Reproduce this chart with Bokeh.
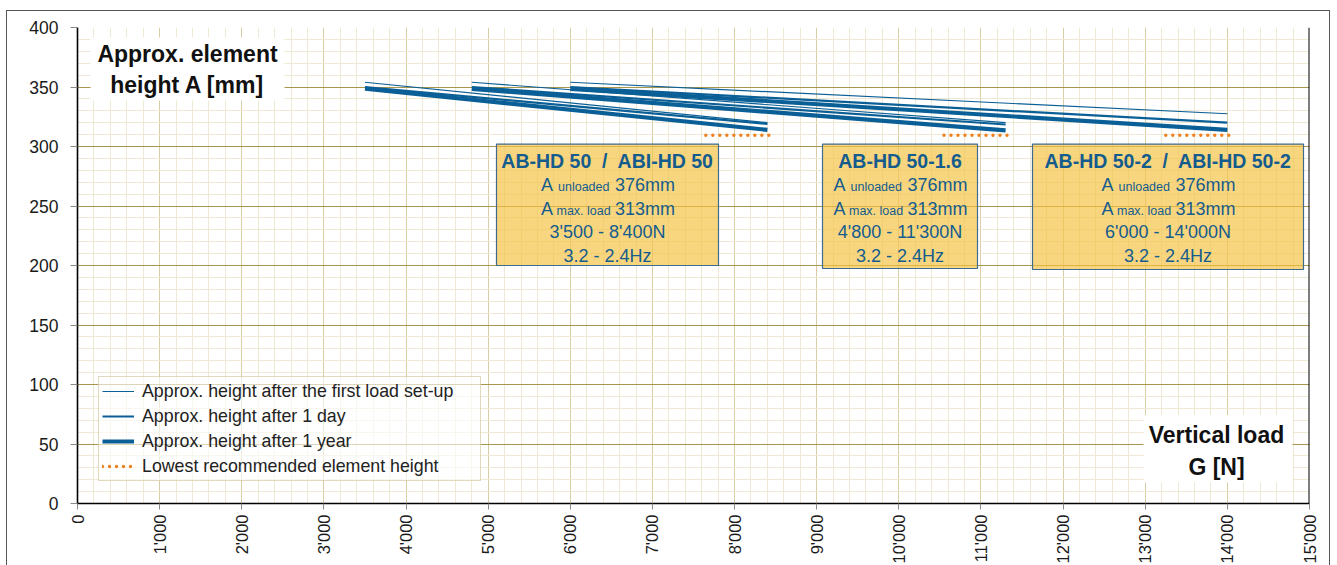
import math
from bokeh.plotting import figure
from bokeh.models import Range1d, FixedTicker, ColumnDataSource, Span
from bokeh.core.properties import value
from bokeh.embed import file_html
from bokeh.resources import INLINE

# ---------------- data ----------------
models = ["AB-HD 50\u00a0 /\u00a0 ABI-HD 50", "AB-HD 50-1.6", "AB-HD 50-2\u00a0 /\u00a0 ABI-HD 50-2"]
load_min = [3500, 4800, 6000]
load_max = [8400, 11300, 14000]
h_first_start = [354, 354, 354]
h_first_end = [320, 320, 327.5]
h_day_start = [350, 350, 350]
h_day_end = [319, 318.5, 320]
h_year_start = [348.5, 348.5, 348.5]
h_year_end = [314, 313.5, 314]
lowest_height = [309.5, 309.5, 309.5]
lowest_from = [7650, 10550, 13250]
lowest_to = [8450, 11350, 14050]
a_unloaded = ["376mm", "376mm", "376mm"]
a_maxload = ["313mm", "313mm", "313mm"]
load_ranges = ["3'500 - 8'400N", "4'800 - 11'300N", "6'000 - 14'000N"]
freq_ranges = ["3.2 - 2.4Hz", "3.2 - 2.4Hz", "3.2 - 2.4Hz"]
x_ticks = [0, 1000, 2000, 3000, 4000, 5000, 6000, 7000, 8000, 9000, 10000,
           11000, 12000, 13000, 14000, 15000]
x_tick_labels = ["0", "1'000", "2'000", "3'000", "4'000", "5'000", "6'000", "7'000",
                 "8'000", "9'000", "10'000", "11'000", "12'000", "13'000", "14'000", "15'000"]
y_ticks = [0, 50, 100, 150, 200, 250, 300, 350, 400]
legend_labels = ["Approx. height after the first load set-up",
                 "Approx. height after 1 day",
                 "Approx. height after 1 year",
                 "Lowest recommended element height"]

# ---------------- layout helpers ----------------
X0, X1, Y0, Y1 = 0, 15000, 0, 400
FRAME_W, FRAME_H = 1232, 476
FL, FT = 77, 27  # frame left / top in page pixels


def px_x(px):
    return X0 + (px - FL) * (X1 - X0) / FRAME_W


def px_y(py):
    return Y1 - (py - FT) * (Y1 - Y0) / FRAME_H


BLUE = "#0b5f97"
ORANGE = "#f07f1e"
TXT_BLUE = "#145c8e"
FONT_NAME = "Liberation Sans"
FONT = value(FONT_NAME)

p = figure(frame_width=FRAME_W, frame_height=FRAME_H,
           x_range=Range1d(X0, X1), y_range=Range1d(Y0, Y1),
           output_backend="svg", toolbar_location=None,
           min_border_left=70, min_border_top=16, min_border_right=20, min_border_bottom=55,
           background_fill_color="white", border_fill_color="white")
p.styles = {"border": "1px solid #555555", "margin-left": "6px", "margin-top": "10px"}
p.outline_line_color = None

# ---------------- axes & grid ----------------
xt = FixedTicker(ticks=x_ticks, minor_ticks=list(range(0, 15001, 200)))
yt = FixedTicker(ticks=y_ticks, minor_ticks=list(range(0, 401, 10)))
p.xaxis.ticker = xt
p.yaxis.ticker = yt
p.xgrid.ticker = xt
p.ygrid.ticker = yt
p.xaxis.major_label_overrides = {t: l for t, l in zip(x_ticks, x_tick_labels)}
p.xaxis.major_label_orientation = math.pi / 2
for ax in (p.xaxis, p.yaxis):
    ax.axis_line_color = "black"
    ax.axis_line_width = 1.6
    ax.major_tick_line_color = "#8a8a8a"
    ax.major_tick_in = 0
    ax.minor_tick_line_color = None
    ax.major_label_text_font = FONT_NAME
    ax.major_label_text_color = "#1a1a1a"
p.xaxis.major_label_text_font_size = "16.5px"
p.yaxis.major_label_text_font_size = "17.5px"
p.xaxis.major_tick_out = 6
p.xaxis.major_label_standoff = 5
p.yaxis.major_tick_out = 7
p.yaxis.major_label_standoff = 12

p.xgrid.grid_line_color = "#d8cea5"
p.xgrid.grid_line_width = 1
p.xgrid.minor_grid_line_color = "#eee8d4"
p.ygrid.grid_line_color = "#a8964f"
p.ygrid.grid_line_width = 1.2
p.ygrid.minor_grid_line_color = "#eee8d4"

p.add_layout(Span(location=X1, dimension="height", line_color="black", line_width=2))

# ---------------- series ----------------
src = ColumnDataSource(dict(lmin=load_min, lmax=load_max,
                            fs=h_first_start, fe=h_first_end,
                            ds=h_day_start, de=h_day_end,
                            ys=h_year_start, ye=h_year_end,
                            lo=lowest_height, lf=lowest_from, lt=lowest_to))
p.segment(x0="lmin", y0="fs", x1="lmax", y1="fe", source=src, line_color=BLUE,
          line_width=1.2, legend_label=legend_labels[0])
p.segment(x0="lmin", y0="ds", x1="lmax", y1="de", source=src, line_color=BLUE,
          line_width=2.2, legend_label=legend_labels[1])
p.segment(x0="lmin", y0="ys", x1="lmax", y1="ye", source=src, line_color=BLUE,
          line_width=4.2, legend_label=legend_labels[2])
p.segment(x0="lf", y0="lo", x1="lt", y1="lo", source=src, line_color=ORANGE,
          line_width=3.4, line_dash="0 7", line_cap="round", legend_label=legend_labels[3])

# ---------------- info boxes ----------------
box_left = [px_x(496), px_x(822), px_x(1032)]
box_right = [px_x(718), px_x(977), px_x(1303)]
box_top = [px_y(143.6)] * 3
box_bottom = [px_y(265), px_y(268), px_y(269)]
p.quad(left=box_left, right=box_right, top=box_top, bottom=box_bottom,
       fill_color="#f5c242", fill_alpha=0.68, line_color="#3f6b90", line_width=1.2)

cx = [(a + b) / 2 for a, b in zip(box_left, box_right)]


def row_y(py):
    return [px_y(py)] * 3


common = dict(text_font=FONT, text_color=TXT_BLUE, text_baseline="middle")
p.text(x=cx, y=row_y(160), text=models, text_font_size="19.5px", text_font_style="bold",
       text_align="center", **common)
p.text(x=cx, y=row_y(184.3), text=["A"] * 3, text_font_size="18px", text_align="left",
       x_offset=-66.5, **common)
p.text(x=cx, y=row_y(186.3), text=["unloaded"] * 3, text_font_size="12.5px", text_align="left",
       x_offset=-49.5, **common)
p.text(x=cx, y=row_y(184.3), text=a_unloaded, text_font_size="18px", text_align="left",
       x_offset=7.5, **common)
p.text(x=cx, y=row_y(208), text=["A"] * 3, text_font_size="18px", text_align="left",
       x_offset=-66.5, **common)
p.text(x=cx, y=row_y(210), text=["max. load"] * 3, text_font_size="12.5px", text_align="left",
       x_offset=-51, **common)
p.text(x=cx, y=row_y(208), text=a_maxload, text_font_size="18px", text_align="left",
       x_offset=7.5, **common)
p.text(x=cx, y=row_y(231.7), text=load_ranges, text_font_size="18px", text_align="center", **common)
p.text(x=cx, y=row_y(255), text=freq_ranges, text_font_size="18px", text_align="center", **common)

# ---------------- axis titles (inside the plot) ----------------
p.quad(left=[px_x(90)], right=[px_x(284)], top=[px_y(37)], bottom=[px_y(100)],
       fill_color="white", line_color=None)
p.text(x=[px_x(187)] * 2, y=[px_y(53.5), px_y(84)], text=["Approx. element", "height A [mm]"],
       text_font=FONT, text_font_size="23px", text_font_style="bold", text_color="#111111",
       text_align="center", text_baseline="middle")
p.quad(left=[px_x(1143)], right=[px_x(1292)], top=[px_y(415)], bottom=[px_y(482)],
       fill_color="white", line_color=None)
p.text(x=[px_x(1216)] * 2, y=[px_y(434.5), px_y(466)], text=["Vertical load", "G [N]"],
       text_font=FONT, text_font_size="23px", text_font_style="bold", text_color="#111111",
       text_align="center", text_baseline="middle")

# ---------------- legend ----------------
lg = p.legend[0]
lg.location = (21, 22)
lg.label_text_font = FONT_NAME
lg.label_text_font_size = "17.8px"
lg.label_text_color = "#222222"
lg.glyph_width = 32
lg.glyph_height = 22
lg.label_height = 22
lg.label_width = 335
lg.label_standoff = 8
lg.spacing = 3
lg.padding = 3
lg.margin = 0
lg.background_fill_color = "white"
lg.background_fill_alpha = 0.6
lg.border_line_color = "#c3b47c"
lg.border_line_width = 1

open("out.html", "w").write(file_html(p, INLINE))
